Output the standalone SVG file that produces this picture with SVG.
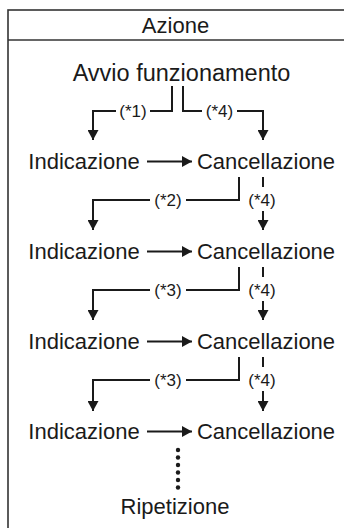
<svg xmlns="http://www.w3.org/2000/svg" width="344" height="528" viewBox="0 0 344 528">
<style>
  text { font-family: "Liberation Sans", Arial, sans-serif; fill: #1a1a1a; }
  .t { font-size: 22px; text-anchor: middle; }
  .lb { font-size: 17px; text-anchor: middle; }
  .c { fill: none; stroke: #1a1a1a; stroke-width: 2; }
  .a { marker-end: url(#ah); }
  .frame { fill: none; stroke: #333; stroke-width: 1.6; }
</style>
<defs>
  <marker id="ah" viewBox="0 0 10 11" refX="10" refY="5.5" markerWidth="10" markerHeight="11" markerUnits="userSpaceOnUse" orient="auto">
    <path d="M0,0 L10,5.5 L0,11 z" fill="#1a1a1a"/>
  </marker>
</defs>
<rect width="344" height="528" fill="#fff"/>
<g id="frame">
  <rect class="frame" x="8" y="10" width="345" height="530"/>
  <line class="frame" x1="8" y1="40" x2="344" y2="40"/>
</g>
<g id="header"><text class="t" x="175.5" y="33">Azione</text></g>
<g id="start"><text class="t" x="181.5" y="81" style="font-size:23.5px">Avvio funzionamento</text></g>
<g id="ind1"><text class="t" x="84" y="168.5">Indicazione</text></g>
<g id="canc1"><text class="t" x="266" y="168.5">Cancellazione</text></g>
<g id="ind2"><text class="t" x="84" y="258.5">Indicazione</text></g>
<g id="canc2"><text class="t" x="266" y="258.5">Cancellazione</text></g>
<g id="ind3"><text class="t" x="84" y="348.5">Indicazione</text></g>
<g id="canc3"><text class="t" x="266" y="348.5">Cancellazione</text></g>
<g id="ind4"><text class="t" x="84" y="439">Indicazione</text></g>
<g id="canc4"><text class="t" x="266" y="439">Cancellazione</text></g>
<g id="rep"><text class="t" x="175" y="514">Ripetizione</text></g>
<g id="connectors">
  <!-- from start -->
  <path class="c" d="M172,86 V111 H150"/>
  <path class="c a" d="M116,111 H93 V140"/>
  <text class="lb" x="133" y="117">(*1)</text>
  <path class="c" d="M183,86 V111 H202"/>
  <path class="c a" d="M237,111 H263 V140"/>
  <text class="lb" x="219.5" y="117">(*4)</text>
  <!-- horizontal arrows -->
  <path class="c a" d="M147,161.5 H192"/>
  <path class="c a" d="M147,251.5 H192"/>
  <path class="c a" d="M147,341.5 H192"/>
  <path class="c a" d="M147,431.5 H192"/>
  <!-- row 1 -->
  <path class="c" d="M239,177 V200 H186"/>
  <path class="c a" d="M150,200 H93 V230"/>
  <text class="lb" x="168" y="206">(*2)</text>
  <path class="c" d="M263,177 V187"/>
  <path class="c a" d="M263,211 V230"/>
  <text class="lb" x="262" y="206">(*4)</text>
  <!-- row 2 -->
  <path class="c" d="M239,267 V290 H186"/>
  <path class="c a" d="M150,290 H93 V320"/>
  <text class="lb" x="168" y="296">(*3)</text>
  <path class="c" d="M263,267 V277"/>
  <path class="c a" d="M263,301 V320"/>
  <text class="lb" x="262" y="296">(*4)</text>
  <!-- row 3 -->
  <path class="c" d="M239,357 V380 H186"/>
  <path class="c a" d="M150,380 H93 V411"/>
  <text class="lb" x="168" y="386">(*3)</text>
  <path class="c" d="M263,357 V367"/>
  <path class="c a" d="M263,391 V411"/>
  <text class="lb" x="262" y="386">(*4)</text>
  <!-- dots -->
  <g fill="#1a1a1a">
    <circle cx="178" cy="450" r="2.2"/>
    <circle cx="178" cy="457.5" r="2.2"/>
    <circle cx="178" cy="465" r="2.2"/>
    <circle cx="178" cy="472.5" r="2.2"/>
    <circle cx="178" cy="480" r="2.2"/>
    <circle cx="178" cy="487.5" r="2.2"/>
  </g>
</g>
</svg>
